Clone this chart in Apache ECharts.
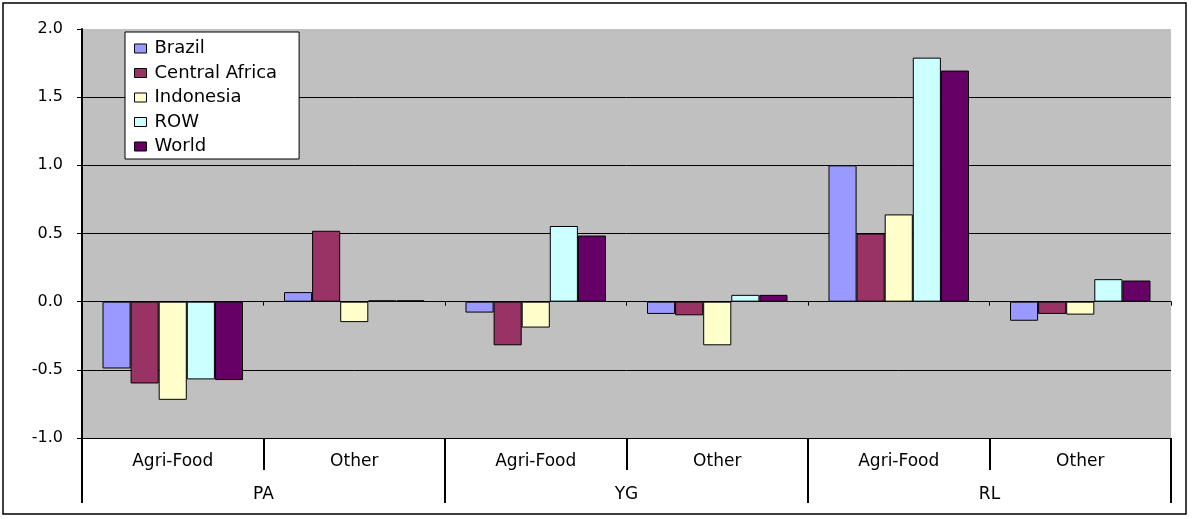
<!DOCTYPE html>
<html>
<head>
<meta charset="utf-8">
<script src="https://cdn.jsdelivr.net/npm/echarts@6/dist/echarts.min.js"></script>
<style>
  html, body { margin: 0; padding: 0; background: #fff; }
  #chart { width: 1192px; height: 519px; }
</style>
</head>
<body>
<div id="chart"></div>
<script>
// sub categories along the axis, and the groups they belong to
const subCategories = ['Agri-Food', 'Other', 'Agri-Food', 'Other', 'Agri-Food', 'Other']
const groups = ['PA', 'YG', 'RL']

const brazil = [-0.49, 0.07, -0.08, -0.09, 1.0, -0.14]
const centralAfrica = [-0.60, 0.52, -0.32, -0.10, 0.50, -0.09]
const indonesia = [-0.72, -0.15, -0.19, -0.32, 0.64, -0.095]
const row = [-0.57, 0.01, 0.555, 0.05, 1.79, 0.165]
const world = [-0.575, 0.01, 0.485, 0.05, 1.695, 0.155]

const yTicks = [-1.0, -0.5, 0.0, 0.5, 1.0, 1.5, 2.0]

// the original text is wide, DejaVu Sans is the closest installed face
const font = '"DejaVu Sans", Verdana, sans-serif'

const chart = echarts.init(document.getElementById('chart'))

const makeSeries = (name, data, color) => ({
  name: name,
  type: 'bar',
  xAxisIndex: 0,
  data: data,
  barGap: '0%',
  barCategoryGap: '22.6%',
  itemStyle: {
    color: color,
    borderColor: '#000',
    borderWidth: 1
  }
})

const option = {
  animation: false,
  backgroundColor: '#fff',
  textStyle: { fontFamily: font },
  graphic: [
    {
      type: 'rect',
      shape: { x: 3, y: 3, width: 1183, height: 511 },
      style: { fill: 'none', stroke: '#000', lineWidth: 1.5 },
      z: 100
    }
  ],
  legend: {
    orient: 'vertical',
    left: 125,
    top: 32,
    backgroundColor: '#fff',
    borderColor: '#000',
    borderWidth: 1,
    padding: [7, 22, 3, 9],
    itemWidth: 12,
    itemHeight: 9,
    itemGap: 5.5,
    icon: 'rect',
    itemStyle: { borderColor: '#000', borderWidth: 1 },
    textStyle: {
      fontFamily: font,
      fontSize: 18,
      color: '#000',
      lineHeight: 19,
      padding: [0, 0, 0, 3]
    },
    data: ['Brazil', 'Central Africa', 'Indonesia', 'ROW', 'World']
  },
  grid: {
    left: 82,
    right: 21,
    top: 29,
    bottom: 81,
    show: true,
    backgroundColor: '#C0C0C0',
    borderWidth: 0
  },
  xAxis: [
    {
      type: 'category',
      data: subCategories,
      position: 'bottom',
      axisLine: { onZero: false, lineStyle: { color: '#000', width: 1 } },
      axisTick: { show: true, interval: 0, length: 32, lineStyle: { color: '#000', width: 2 } },
      axisLabel: { interval: 0, fontSize: 17, color: '#000', margin: 15, fontFamily: font },
      splitLine: { show: false }
    },
    {
      type: 'category',
      data: groups,
      position: 'bottom',
      axisLine: { show: false, onZero: false },
      axisTick: { show: true, interval: 0, length: 65, lineStyle: { color: '#000', width: 2 } },
      axisLabel: { interval: 0, fontSize: 17, color: '#000', margin: 48, fontFamily: font },
      splitLine: { show: false }
    },
    {
      type: 'category',
      data: subCategories,
      position: 'bottom',
      axisLine: { onZero: true, lineStyle: { color: '#000', width: 1 } },
      axisTick: { show: true, interval: 0, length: 4, lineStyle: { color: '#000' } },
      axisLabel: { show: false },
      splitLine: { show: false }
    }
  ],
  yAxis: {
    type: 'value',
    min: yTicks[0],
    max: yTicks[yTicks.length - 1],
    interval: 0.5,
    axisLine: { show: true, lineStyle: { color: '#000', width: 2 } },
    axisTick: { show: true, length: 5, lineStyle: { color: '#000' } },
    axisLabel: {
      fontSize: 16,
      color: '#000',
      margin: 19,
      fontFamily: font,
      formatter: v => v.toFixed(1)
    },
    splitLine: { show: true, showMaxLine: false, lineStyle: { color: '#000', width: 1 } }
  },
  series: [
    makeSeries('Brazil', brazil, '#9999FF'),
    makeSeries('Central Africa', centralAfrica, '#993366'),
    makeSeries('Indonesia', indonesia, '#FFFFCC'),
    makeSeries('ROW', row, '#CCFFFF'),
    makeSeries('World', world, '#660066')
  ]
}

chart.setOption(option)
</script>
</body>
</html>
